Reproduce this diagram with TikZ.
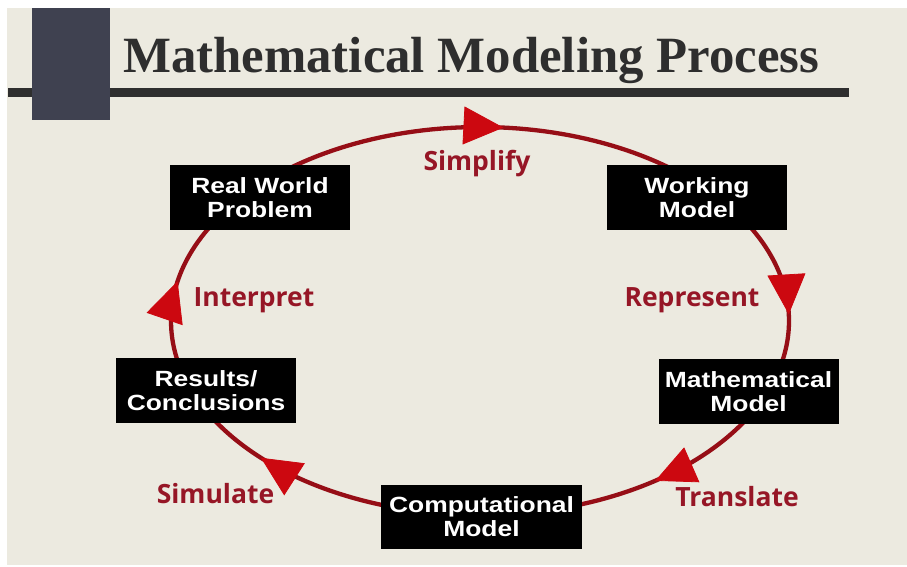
\documentclass[tikz,border=0pt]{standalone}
\usepackage{fontspec}
\setmainfont{Liberation Serif}
\newfontfamily\boxfont[FakeStretch=1.2]{Liberation Sans}
\newfontfamily\labfont{Open Sans}
\usetikzlibrary{arrows.meta,decorations.markings}
\definecolor{bgc}{RGB}{236,234,224}
\definecolor{sqc}{RGB}{63,65,80}
\definecolor{rulec}{RGB}{47,47,47}
\definecolor{titlec}{RGB}{46,46,46}
\definecolor{linered}{RGB}{150,14,22}
\definecolor{headred}{RGB}{204,8,16}
\definecolor{labred}{RGB}{150,22,38}
\tikzset{
  stepbox/.style={fill=black, text=white, inner sep=0pt, align=center,
    minimum width=180pt, minimum height=65pt,
    font=\boxfont\bfseries\fontsize{22}{24}\selectfont},
  steplabel/.style={text=labred, inner sep=0pt, anchor=base,
    font=\labfont\bfseries\fontsize{26.5}{28}\selectfont},
  conn/.style={draw=linered, line width=4.3pt},
  headat/.style={postaction={decorate}, decoration={markings,
    mark=at position #1 with {\arrow{Triangle[length=40pt,width=38pt,color=headred,line width=0.8pt]}}}}
}
\begin{document}
\begin{tikzpicture}[x=1pt,y=-1pt]
\useasboundingbox (0,0) rectangle (907,566);
\fill[white] (0,0) rectangle (907,566);
\fill[bgc] (7,8) rectangle (907,565);
% title bar
\fill[rulec] (8,88) rectangle (849,97);
\fill[sqc] (32,8) rectangle (110,120);
\node[anchor=base west, inner sep=0pt, text=titlec,
  font=\bfseries\fontsize{50.8}{51}\selectfont] (title) at (123,72) {Mathematical Modeling Process};
% connectors (ellipse centre (480,321), radii 309 x 194)
\draw[conn, headat=0.55] plot[domain=222:317.7, samples=60, variable=\t] ({480+309*cos(\t)},{321+194*sin(\t)});
\draw[conn, headat=0.64] plot[domain=317.7:382.6, samples=60, variable=\t] ({480+309*cos(\t)},{321+194*sin(\t)});
\draw[conn, headat=0.44] plot[domain=22.6:90, samples=60, variable=\t] ({480+309*cos(\t)},{321+194*sin(\t)});
\draw[conn, headat=0.71] plot[domain=90:158, samples=60, variable=\t] ({480+309*cos(\t)},{321+194*sin(\t)});
\draw[conn, headat=0.50] plot[domain=158:222, samples=60, variable=\t] ({480+309*cos(\t)},{321+194*sin(\t)});
% boxes
\node[stepbox] (rw) at (260,197.5) {Real World\\Problem};
\node[stepbox] (wm) at (697,197.5) {Working\\Model};
\node[stepbox] (mm) at (748.5,391.5) {Mathematical\\Model};
\node[stepbox, minimum width=201pt, minimum height=64pt] (cm) at (481.5,517) {Computational\\Model};
\node[stepbox] (rc) at (206,390.5) {Results/\\Conclusions};
% labels
\node[steplabel] (l1) at (477,170) {Simplify};
\node[steplabel] (l2) at (692,306) {Represent};
\node[steplabel] (l3) at (737,506) {Translate};
\node[steplabel] (l4) at (215.5,503) {Simulate};
\node[steplabel] (l5) at (254,306) {Interpret};
\end{tikzpicture}
\end{document}
